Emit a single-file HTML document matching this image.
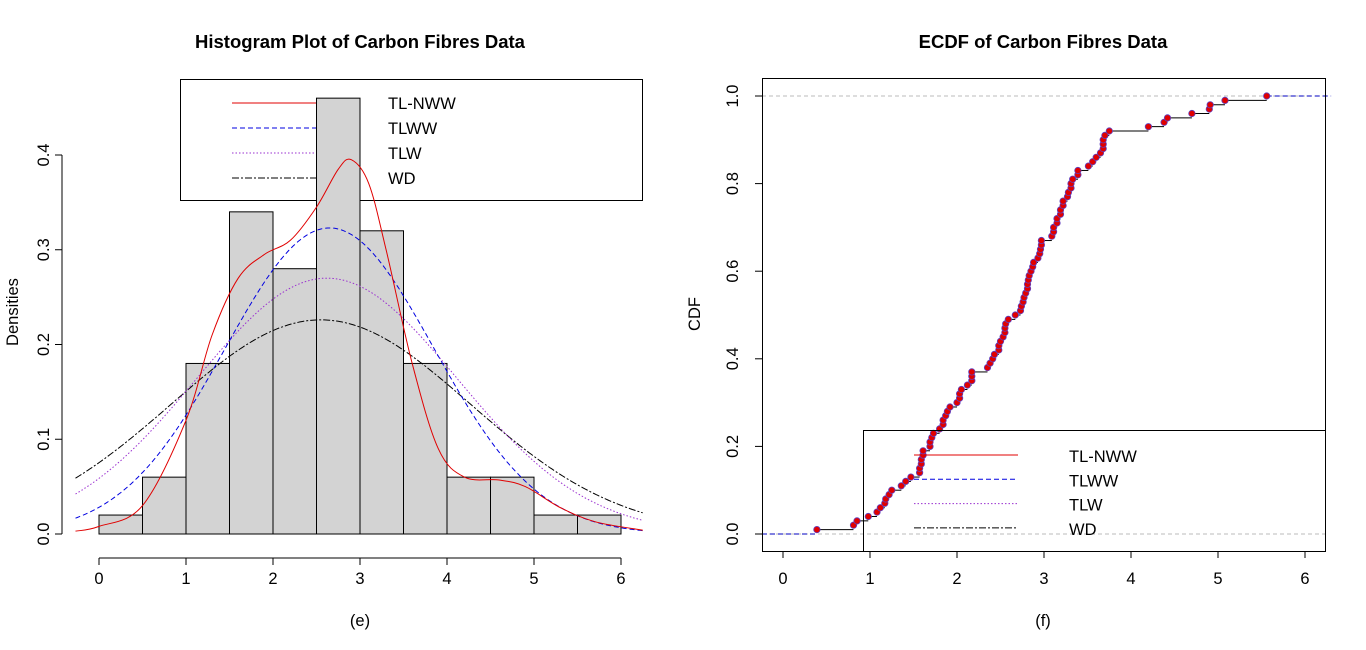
<!DOCTYPE html>
<html><head><meta charset="utf-8"><style>
html,body{margin:0;padding:0;background:#fff;}
svg{display:block;font-family:"Liberation Sans",Arial,sans-serif;}
</style></head><body>
<svg id="s" width="1366" height="650" xmlns="http://www.w3.org/2000/svg"></svg>
<script>
const s=document.getElementById('s');let h='';
function L(x1,y1,x2,y2,st){h+=`<line x1="${x1}" y1="${y1}" x2="${x2}" y2="${y2}" ${st||'stroke="#000" stroke-width="1"'}/>`;}
function T(x,y,t,st){h+=`<text x="${x}" y="${y}" ${st||''}>${t}</text>`;}
const FS='font-size="16.5"';
// ---- LEFT ----
const lx=v=>99+v*87, ly=v=>534-v*947.5;
T(360,48,'Histogram Plot of Carbon Fibres Data','text-anchor="middle" font-size="18.5" font-weight="bold"');
h+=`<rect x="180.5" y="79.5" width="462" height="121" fill="none" stroke="#000"/>`;
const leg=[['TL-NWW','#e00000',''],['TLWW','#0000e0','stroke-dasharray="5,3"'],['TLW','#9a30d0','stroke-dasharray="1.5,2"'],['WD','#000','stroke-dasharray="7,2,2,2"']];
leg.forEach((g,i)=>{const y=103+i*25;L(232,y,334,y,`stroke="${g[1]}" ${g[2]}`);T(388,y+6,g[0],FS);});
const dens=[0.02,0.06,0.18,0.34,0.28,0.46,0.32,0.18,0.06,0.06,0.02,0.02];
dens.forEach((d,i)=>{h+=`<rect x="${lx(i*0.5)}" y="${ly(d)}" width="43.5" height="${ly(0)-ly(d)}" fill="#d3d3d3" stroke="#000"/>`;});
function curve(f,col,da){let p='';for(let x=-0.27;x<=6.25;x+=0.02){p+=(p?'L':'M')+lx(x).toFixed(1)+','+ly(f(x)).toFixed(1);}h+=`<path d="${p}" fill="none" stroke="${col}" ${da}/>`;}
const gs=(m,sd,a)=>x=>a*Math.exp(-(x-m)*(x-m)/(2*sd*sd));
curve(gs(2.55,1.72,0.226),'#000','stroke-dasharray="7,2,2,2"');
curve(gs(2.62,1.5,0.27),'#9a30d0','stroke-dasharray="1.5,2"');
curve(gs(2.65,1.2,0.323),'#0000e0','stroke-dasharray="5,3"');
const P=[[-0.27,0.003],[0,0.008],[0.5,0.03],[1,0.12],[1.3,0.21],[1.6,0.27],[1.9,0.295],[2.2,0.31],[2.5,0.345],[2.75,0.385],[2.9,0.395],[3.1,0.37],[3.3,0.30],[3.6,0.18],[3.9,0.09],[4.2,0.06],[4.6,0.057],[4.9,0.05],[5.3,0.028],[5.7,0.013],[6.25,0.004]];
let p='M'+lx(P[0][0])+','+ly(P[0][1]);
for(let i=0;i<P.length-1;i++){const p0=P[Math.max(i-1,0)],p1=P[i],p2=P[i+1],p3=P[Math.min(i+2,P.length-1)];
const c1=[lx(p1[0]+(p2[0]-p0[0])/6),ly(p1[1]+(p2[1]-p0[1])/6)],c2=[lx(p2[0]-(p3[0]-p1[0])/6),ly(p2[1]-(p3[1]-p1[1])/6)];
p+=`C${c1[0].toFixed(1)},${c1[1].toFixed(1)} ${c2[0].toFixed(1)},${c2[1].toFixed(1)} ${lx(p2[0]).toFixed(1)},${ly(p2[1]).toFixed(1)}`;}
h+=`<path d="${p}" fill="none" stroke="#e00000"/>`;
L(62,ly(0),62,ly(0.4));
for(let i=0;i<=4;i++){const y=ly(i/10);L(55,y,62,y);T(49,y,(i/10).toFixed(1),`${FS} text-anchor="middle" transform="rotate(-90 49 ${y})"`);}
L(lx(0),558,lx(6),558);
for(let i=0;i<=6;i++){L(lx(i),558,lx(i),565);T(lx(i),584,i,`${FS} text-anchor="middle"`);}
T(18,312,'Densities',`${FS} text-anchor="middle" transform="rotate(-90 18 312)"`);
T(360,626,'(e)',`${FS} text-anchor="middle"`);
// ---- RIGHT ----
const rx=v=>783+v*87, ry=v=>534-v*438;
T(1043,48,'ECDF of Carbon Fibres Data','text-anchor="middle" font-size="18.5" font-weight="bold"');
L(762,96,1325,96,'stroke="#bbb" stroke-dasharray="4,3"');L(762,534,1325,534,'stroke="#bbb" stroke-dasharray="4,3"');
const D=[3.70,2.74,2.73,2.50,3.60,3.11,3.27,2.87,1.47,3.11,4.42,2.41,3.19,3.22,1.69,3.28,3.09,1.87,3.15,4.90,3.75,2.43,2.95,2.97,3.39,2.96,2.53,2.67,2.93,3.22,3.39,2.81,4.20,3.33,2.55,3.31,3.31,2.85,2.56,3.56,3.15,2.35,2.55,2.59,2.38,2.81,2.77,2.17,2.83,1.92,1.41,3.68,2.97,1.36,0.98,2.76,4.91,3.68,1.84,1.59,3.19,1.57,0.81,5.56,1.73,1.59,2.00,1.22,1.12,1.71,2.17,1.17,5.08,2.48,1.18,3.51,2.17,1.69,1.25,4.38,1.84,0.39,3.68,2.48,0.85,1.61,2.79,4.70,2.03,1.80,1.57,1.08,2.03,1.61,2.12,1.89,2.88,2.82,2.05,3.65].sort((a,b)=>a-b);
const n=D.length;
L(762,534,rx(D[0]),534,'stroke="#0000c0" stroke-dasharray="5,3"');
for(let i=0;i<n;i++){const nx=i<n-1?D[i+1]:6.3;L(rx(D[i]),ry((i+1)/n),rx(nx),ry((i+1)/n),i<n-1?'stroke="#000"':'stroke="#0000c0" stroke-dasharray="5,3"');}
for(let i=0;i<n;i++){h+=`<circle cx="${rx(D[i]).toFixed(1)}" cy="${ry((i+1)/n).toFixed(1)}" r="3.2" fill="#e00000" stroke="#6040c0" stroke-width="0.8"/>`;}
h+=`<rect x="863.5" y="430.5" width="462" height="121" fill="none" stroke="#000"/>`;
leg.forEach((g,i)=>{const y=455+i*24.3;L(914,y,1018,y,`stroke="${g[1]}" ${g[2]}`);T(1069,y+7,g[0],FS);});
h+=`<rect x="762.5" y="78.5" width="563" height="473" fill="none" stroke="#000"/>`;
for(let i=0;i<=5;i++){const v=i*0.2,y=ry(v);L(755,y,762,y);T(738,y,v.toFixed(1),`${FS} text-anchor="middle" transform="rotate(-90 738 ${y})"`);}
for(let i=0;i<=6;i++){L(rx(i),551,rx(i),558);T(rx(i),584,i,`${FS} text-anchor="middle"`);}
T(700,314,'CDF',`${FS} text-anchor="middle" transform="rotate(-90 700 314)"`);
T(1043,626,'(f)',`${FS} text-anchor="middle"`);
s.innerHTML=h;
</script>
</body></html>
